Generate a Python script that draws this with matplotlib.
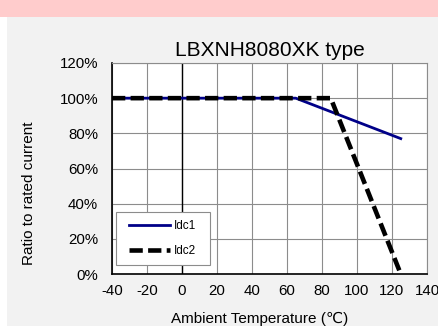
import matplotlib
matplotlib.use("Agg")
import matplotlib.pyplot as plt
from matplotlib.patches import Rectangle

plt.rcParams["font.family"] = ["Liberation Sans", "DejaVu Sans"]
plt.rcParams["axes.unicode_minus"] = False

# derating curves (temperature in degC, ratio in %)
idc1_temp = [-40, 65, 125]
idc1_ratio = [100, 100, 77]
idc2_temp = [-40, 85, 125]
idc2_ratio = [100, 100, 0]

x_ticks = [-40, -20, 0, 20, 40, 60, 80, 100, 120, 140]
y_ticks = [0, 20, 40, 60, 80, 100, 120]
y_tick_labels = ["0%", "20%", "40%", "60%", "80%", "100%", "120%"]

W, H = 438, 326
fig = plt.figure(figsize=(W / 100, H / 100), dpi=100)
fig.patch.set_facecolor("white")

# pink band on top and grey panel behind the chart
fig.patches.append(Rectangle((0, 1 - 17 / H), 1, 17 / H, transform=fig.transFigure,
                             facecolor="#ffcccc", edgecolor="none", zorder=-5))
fig.patches.append(Rectangle((7 / W, 0), 1, 1 - 17 / H, transform=fig.transFigure,
                             facecolor="#f2f2f2", edgecolor="none", zorder=-5))

ax = fig.add_axes([112 / W, 52 / H, 315 / W, 211 / H])
ax.set_zorder(2)
ax.set_facecolor("white")

ax.plot(idc1_temp, idc1_ratio, color="#000088", lw=2, label="Idc1", zorder=3)
ax.plot(idc2_temp, idc2_ratio, color="black", lw=3.3, linestyle=(0, (2.9, 1.16)),
        label="Idc2", zorder=4)

ax.set_xlim(-40, 140)
ax.set_ylim(0, 120)
ax.set_xticks(x_ticks)
ax.set_yticks(y_ticks)
ax.set_yticklabels(y_tick_labels)
ax.tick_params(length=0, labelsize=10.8, colors="black")
ax.tick_params(axis="y", pad=10)
ax.tick_params(axis="x", pad=7)
ax.grid(True, color="#8c8c8c", lw=0.8)
ax.set_axisbelow(True)
ax.axvline(0, color="black", lw=1, zorder=2)

ax.spines["left"].set_color("black")
ax.spines["bottom"].set_color("black")
ax.spines["left"].set_linewidth(1.2)
ax.spines["bottom"].set_linewidth(1.2)
for s in ["top", "right"]:
    ax.spines[s].set_color("#8c8c8c")
    ax.spines[s].set_linewidth(0.8)

ax.set_title("LBXNH8080XK type", fontsize=15, pad=5)
fig.text(260 / W, 1 - 323 / H, "Ambient Temperature (\u2103)", ha="center", va="baseline",
         fontsize=11)
fig.text(29.5 / W, 1 - 193 / H, "Ratio to rated current", ha="center", va="center",
         rotation=90, fontsize=11)

# legend box drawn separately so its padding can match the reference
ax.add_patch(Rectangle((4 / 315, 9 / 211), 94 / 315, 53 / 211, transform=ax.transAxes,
                       facecolor="white", edgecolor="#8c8c8c", lw=0.8, zorder=5))
leg = ax.legend(loc="center left", bbox_to_anchor=(17 / 315, 35.5 / 211), borderaxespad=0,
                fontsize=8.5, handlelength=3.5, handletextpad=0.3, labelspacing=1.13,
                borderpad=0, frameon=False)
leg.set_zorder(6)

fig.savefig("out.png", dpi=100)
